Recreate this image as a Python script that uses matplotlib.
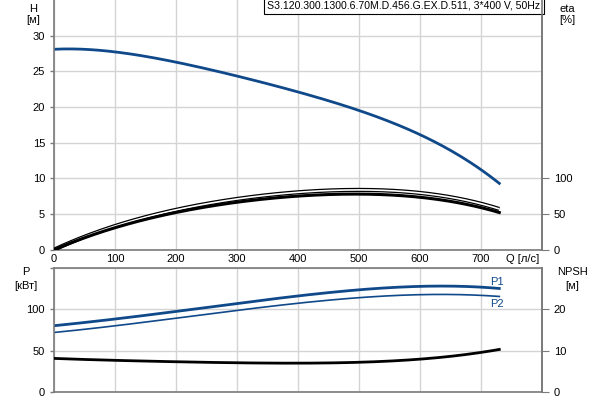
import numpy as np
import matplotlib
matplotlib.use("Agg")
import matplotlib.pyplot as plt

plt.rcParams['font.family'] = ['Liberation Sans', 'DejaVu Sans']

# pump curve data, Q in l/s
q = [0, 100, 200, 300, 400, 500, 600, 730]
head = [28.1, 27.7, 26.3, 24.4, 22.0, 19.6, 16.1, 9.3]
eta_upper = [0, 33, 56, 71, 81, 83, 80, 57]
eta_lower = [0, 30, 53, 66.5, 75, 77.5, 74, 52]

q_p = [0, 100, 200, 300, 400, 500, 600, 730]
p1 = [80, 89, 97, 107, 116.6, 124.4, 127.5, 125.6]
p2 = [72, 80, 89.5, 98.8, 107.3, 114.6, 117.8, 115.8]
q_npsh = [0, 100, 200, 300, 400, 500, 600, 700, 730]
npsh = [8.1, 7.6, 7.3, 7.05, 6.9, 7.15, 7.95, 9.5, 10.3]

x_ticks = [0, 100, 200, 300, 400, 500, 600, 700]
title = "S3.120.300.1300.6.70M.D.456.G.EX.D.511, 3*400 V, 50Hz"

blue = "#10498a"
grid_c = "#d4d4d4"
spine_c = "#7a7a7a"


def smooth(x, y, n=200):
    # smooth polynomial through the read points
    x = np.asarray(x, float)
    y = np.asarray(y, float)
    xs = np.linspace(x[0], x[-1], n)
    coef = np.polyfit(x, y, min(4, len(x) - 1))
    return xs, np.polyval(coef, xs)


fig = plt.figure(figsize=(6, 4), dpi=100)
ax1 = fig.add_axes([0.09, 0.37575, 0.8133, 0.62425])
ax2 = fig.add_axes([0.09, 0.02075, 0.8133, 0.3085])

for ax in (ax1, ax2):
    ax.set_xlim(0, 800)
    ax.set_xticks(range(0, 801, 100))
    ax.grid(True, color=grid_c, lw=1)
    ax.set_axisbelow(True)
    for s in ax.spines.values():
        s.set_color(spine_c)
        s.set_linewidth(1.2)
    ax.tick_params(labelsize=8, length=3, color=spine_c, width=1)

# top: head + efficiency
ax1.set_ylim(0, 35)
ax1.set_yticks(range(0, 31, 5))
ax1.spines['top'].set_visible(False)
ax1.set_xticklabels([str(v) for v in x_ticks] + [""])
ax1.tick_params(axis='x', length=0, pad=3)
xs, ys = smooth(q, head)
ax1.plot(xs, ys, color=blue, lw=2)

ax1e = ax1.twinx()
ax1e.set_ylim(0, 350)
ax1e.set_yticks([0, 50, 100])
ax1e.tick_params(labelsize=8, length=5, color=spine_c)
for s in ax1e.spines.values():
    s.set_visible(False)
ax1e.spines['right'].set_visible(True)
ax1e.spines['right'].set_color(spine_c)
ax1e.spines['right'].set_linewidth(1.2)
xs, ys = smooth(q, eta_upper)
ax1e.plot(xs, ys, color="black", lw=3, solid_capstyle='butt')
ax1e.plot(xs, ys, color="white", lw=1.2, solid_capstyle='butt')
xs, ys = smooth(q, eta_lower)
ax1e.plot(xs, ys, color="black", lw=2.2)

ax1.text(0.997, 0.996, title, transform=ax1.transAxes, ha='right', va='top',
         fontsize=7.6, bbox=dict(facecolor='white', edgecolor='black', lw=0.8, pad=2.5))
fig.text(33 / 600, 1 - 12 / 400, "H", ha='center', fontsize=8)
fig.text(33 / 600, 1 - 23 / 400, "[м]", ha='center', fontsize=8)
fig.text(567 / 600, 1 - 12 / 400, "eta", ha='center', fontsize=8)
fig.text(567 / 600, 1 - 23 / 400, "[%]", ha='center', fontsize=8)
fig.text(523 / 600, 1 - 262 / 400, "Q [л/с]", ha='center', fontsize=8)

# bottom: power + NPSH
ax2.set_ylim(0, 150)
ax2.set_yticks([0, 50, 100, 150])
ax2.set_yticklabels(["0", "50", "100", ""])
ax2.tick_params(axis='x', labelbottom=False, length=0)
xs, ys = smooth(q_p, p1)
ax2.plot(xs, ys, color=blue, lw=2)
xs, ys = smooth(q_p, p2)
ax2.plot(xs, ys, color=blue, lw=1.2)
ax2.text(q_p[-1] - 15, p1[-1] + 2, "P1", color=blue, fontsize=8, va='bottom')
ax2.text(q_p[-1] - 15, p2[-1] - 3, "P2", color=blue, fontsize=8, va='top')

ax2n = ax2.twinx()
ax2n.set_ylim(0, 30)
ax2n.set_yticks([0, 10, 20])
ax2n.tick_params(labelsize=8, length=5, color=spine_c)
for s in ax2n.spines.values():
    s.set_visible(False)
ax2n.spines['right'].set_visible(True)
ax2n.spines['right'].set_color(spine_c)
ax2n.spines['right'].set_linewidth(1.2)
xs, ys = smooth(q_npsh, npsh)
ax2n.plot(xs, ys, color="black", lw=2)

fig.text(26 / 600, 1 - 275 / 400, "P", ha='center', fontsize=8)
fig.text(26 / 600, 1 - 289 / 400, "[кВт]", ha='center', fontsize=8)
fig.text(572 / 600, 1 - 275 / 400, "NPSH", ha='center', fontsize=8)
fig.text(572 / 600, 1 - 289 / 400, "[м]", ha='center', fontsize=8)

fig.savefig("out.png", dpi=100)
